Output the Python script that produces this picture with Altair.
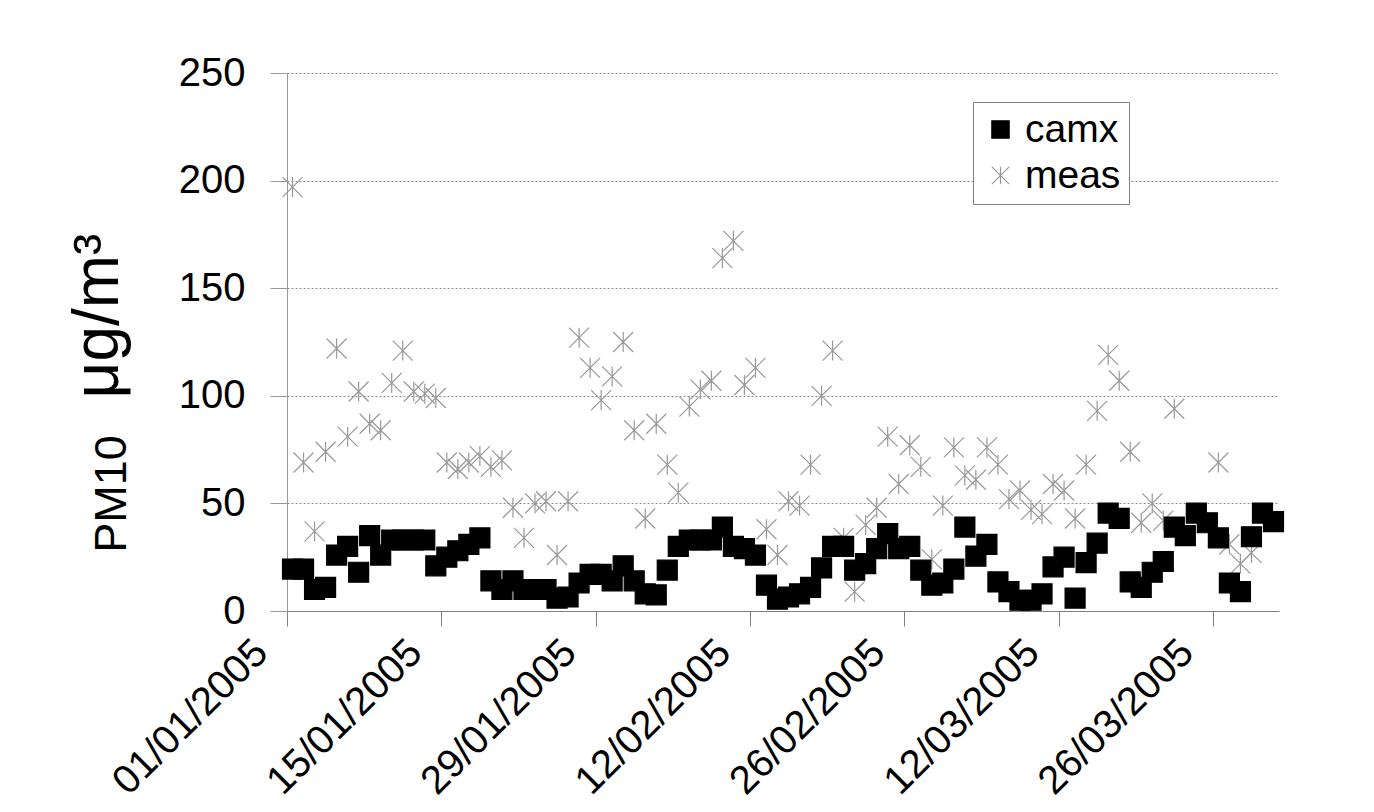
import altair as alt
import pandas as pd

# ---- data (daily values, 01/01/2005 .. 31/03/2005) ----
dates = pd.date_range("2005-01-01 12:00", periods=90, freq="D").strftime("%Y-%m-%dT%H:%M:%S").tolist()

camx = [19.5, 19.5, 10, 11, 26, 30, 18, 35, 26, 33,
        33, 33, 33, 21, 25, 28, 31, 34, 14, 10,
        14, 10, 10, 10, 6, 6.5, 13, 17, 17, 14,
        21, 14, 8, 7.5, 19, 30, 33, 33, 33, 39,
        30, 29, 26, 12, 5.5, 6.5, 8, 11, 20, 30,
        30, 19, 22, 29, 36, 29, 30, 19, 12, 13,
        19.5, 39, 25.5, 31, 13.5, 9, 5, 5, 8, 20.5,
        25, 6, 22.5, 31.5, 45.5, 43, 13.5, 11, 18, 23,
        39, 35, 45.5, 41, 34, 13, 9, 34.5, 45.5, 41.5]

meas = [197, 69, 37, 74, 122, 81, 102, 87, 84, 106,
        121, 102, 101, 99, 69, 66, 69, 72, 67, 70,
        48, 34, 50, 51, 26, 51, 127, 113, 98, 109,
        125, 84, 43, 87, 68, 55, 95, 103, 107, 164,
        172, 105, 113, 38, 26, 51, 49, 68, 100, 121,
        34, 9, 40, 48, 81, 59, 77, 67, 24, 49,
        76, 63, 61, 76, 68, 52, 56, 47, 45, 59,
        56, 43, 68, 93, 119, 107, 74, 41, 50, 42,
        94, None, None, None, 69, 31, 22, 27, None, None]

series_names = ["camx", "meas"]
tick_days = [(1, 1), (1, 15), (1, 29), (2, 12), (2, 26), (3, 12), (3, 26)]
y_ticks = [0, 50, 100, 150, 200, 250]
y_title_parts = ["PM10", "μg/m³"]

df = pd.DataFrame({
    "date": dates + dates,
    "series": ["meas"] * len(meas) + ["camx"] * len(camx),
    "value": meas + camx,
}).dropna()

STAR = "M-1,-1L1,1M-1,1L1,-1M0,-1L0,1"

legend = alt.Legend(
    title=None, orient="none", legendX=686, legendY=29,
    padding=8, strokeColor="#808080", fillColor="white",
    labelFontSize=39, labelFont="Liberation Sans", labelColor="black",
    symbolSize=300, symbolStrokeWidth=1.2, labelOffset=5, rowPadding=6,
)

points = alt.Chart(df).mark_point(opacity=1, strokeWidth=1.2, size=400).encode(
    x=alt.X(
        "date:T",
        title=None,
        scale=alt.Scale(
            domain=[alt.DateTime(year=2005, month=1, date=1),
                    alt.DateTime(year=2005, month=4, date=1)],
            nice=False,
        ),
        axis=alt.Axis(
            values=[alt.DateTime(year=2005, month=m, date=d) for m, d in tick_days],
            format="%d/%m/%Y",
            grid=False,
        ),
    ),
    y=alt.Y(
        "value:Q",
        title=None,
        scale=alt.Scale(domain=[0, 250], nice=False),
        axis=alt.Axis(values=y_ticks, grid=True),
    ),
    shape=alt.Shape("series:N", scale=alt.Scale(domain=series_names, range=["square", STAR]), legend=legend),
    fill=alt.Fill("series:N", scale=alt.Scale(domain=series_names, range=["#000000", "transparent"]), legend=legend),
    stroke=alt.Stroke("series:N", scale=alt.Scale(domain=series_names, range=["#000000", "#999999"]), legend=legend),
)

t1 = alt.Chart(pd.DataFrame({"t": [y_title_parts[0]]})).mark_text(
    angle=270, align="center", baseline="alphabetic",
    fontSize=45, font="Liberation Sans", color="black",
).encode(x=alt.value(-161), y=alt.value(421), text="t:N")

t2 = alt.Chart(pd.DataFrame({"t": [y_title_parts[1]]})).mark_text(
    angle=270, align="center", baseline="alphabetic",
    fontSize=64, font="Liberation Sans", color="black",
).encode(x=alt.value(-169), y=alt.value(243), text="t:N")

chart = alt.layer(points, t1, t2).properties(
    width=992, height=538,
    autosize=alt.AutoSizeParams(type="none"),
    padding={"left": 279, "top": 65, "right": 70, "bottom": 191},
).configure_view(
    stroke=None
).configure_axisX(
    domainColor="#808080", tickColor="#808080", tickSize=15,
    labelFontSize=40, labelFont="Liberation Sans", labelColor="black",
    labelAngle=-45, labelAlign="right", labelBaseline="middle",
    labelPadding=20, labelOffset=-26, labelOverlap=False, labelFlush=False,
    labelLimit=600,
).configure_axisY(
    domainColor="#999999", tickColor="#999999", tickSize=17,
    labelFontSize=40, labelFont="Liberation Sans", labelColor="black",
    labelPadding=25, gridColor="#8a8a8a", gridDash=[2, 2], gridWidth=1,
)

chart.save("out.html", embed_options={"renderer": "svg", "actions": False})
